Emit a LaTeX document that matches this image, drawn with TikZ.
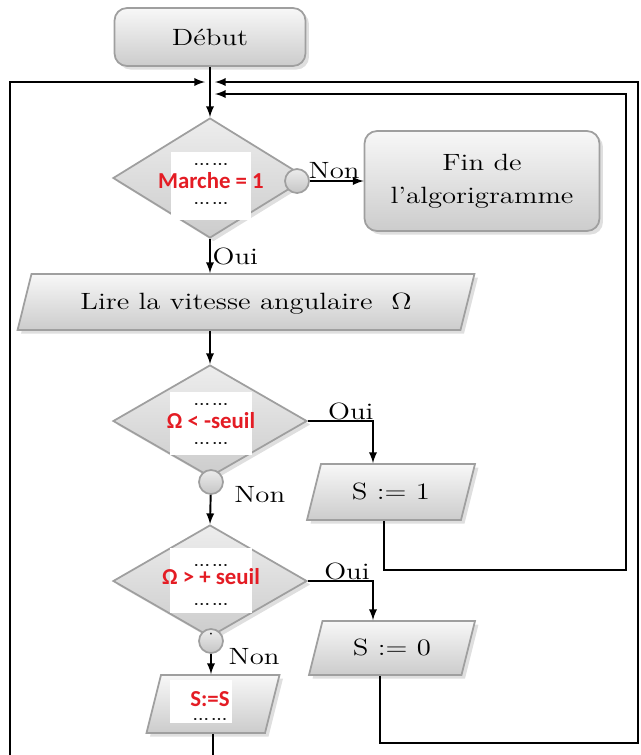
\documentclass[tikz,border=0pt]{standalone}
\usepackage{fontspec}
\setmainfont{Latin Modern Roman}[FakeStretch=1.22]
\newfontfamily\rougefont{Carlito}
\usetikzlibrary{shapes.geometric,shadows}
\definecolor{rougetxt}{RGB}{228,28,36}
\newcommand{\pts}{{\fontsize{7}{7}\selectfont\bfseries ...\,...}}
\newcommand{\cond}[1]{{\rougefont\bfseries\fontsize{13}{13}\selectfont\color{rougetxt}#1}}

\begin{document}
\begin{tikzpicture}[x=0.02cm,y=-0.02cm,>=latex,line width=1.1pt,
  forme/.style={draw=gray!75,line width=1pt,top color=gray!6,bottom color=gray!40,
    drop shadow={shadow xshift=2pt,shadow yshift=-2pt,opacity=0.25},font=\fontsize{13.4}{17}\selectfont},
  terminal/.style={forme,rectangle,rounded corners=0.25cm,align=center},
  test/.style={forme,diamond,inner sep=0pt,minimum width=3.88cm,top color=gray!14},
  es/.style={forme,trapezium,trapezium left angle=76,trapezium right angle=104,
    trapezium stretches body,inner sep=0pt,text height=0.7cm,text depth=0.42cm},
  masque/.style={fill=white,inner sep=0pt,minimum width=1.64cm},
  cadre/.style={align=center,inner sep=0pt,font=\fontsize{7}{7}\selectfont},
  rond/.style={circle,draw=gray!75,line width=1pt,top color=gray!15,bottom color=gray!45,
    minimum size=0.48cm,inner sep=0pt},
  lab/.style={font=\fontsize{13.4}{17}\selectfont,inner sep=1pt}]
\useasboundingbox (0,0) rectangle (640,755);

\node[terminal,minimum width=3.82cm,minimum height=1.16cm] (debut) at (210,37) {Début};
\node[terminal,minimum width=4.7cm,minimum height=2cm] (fin) at (482,181) {Fin de\\[2pt]l'algorigramme};

\node[test,minimum height=2.4cm] (d1) at (210,178) {};
\node[masque,minimum width=1.62cm,minimum height=1.36cm] (m1) at (211,186) {};
\node[cadre] (t1) at (211,184) {\pts\\[3pt]\cond{Marche = 1}\\[2pt]\pts};
\node[rond] (c1) at (297,181) {};

\node[es,minimum width=9.14cm] (lire) at (246,302) {Lire la vitesse angulaire \ Ω};

\node[test,minimum height=2.24cm] (d2) at (210,421) {};
\node[masque,minimum height=1.26cm] (m2) at (211,423) {};
\node[cadre] (t2) at (211,424) {\pts\\[3pt]\cond{Ω < -seuil}\\[2pt]\pts};
\node[rond] (c2) at (211,482) {};

\node[test,minimum height=2.24cm] (d3) at (210,581) {};
\node[masque,minimum height=1.3cm] (m3) at (211,580) {};
\node[cadre] (t3) at (211,585) {\pts\\\cond{Ω > + seuil}\\[5pt]\pts};
\node[rond] (c3) at (211,641) {};
\node[inner sep=0pt] (p3) at (c3.north) [yshift=-0.12cm] {$\cdot$};

\node[es,minimum width=3.36cm] (s1) at (391,492) {S := 1};
\node[es,minimum width=3.32cm,text height=0.68cm,text depth=0.4cm] (s0) at (392,648) {S := 0};
\node[es,minimum width=2.66cm,text height=0.58cm,text depth=0.58cm] (ss) at (213,704) {};
\node[masque,minimum width=1.26cm,minimum height=0.86cm] (m4) at (201,701) {};
\node[cadre] (t4) at (210,706) {\cond{S:=S}\\[1pt]\pts};

\coordinate (jg) at (205,82);
\coordinate (jd) at (215,82);
\coordinate (jd2) at (215,94);
\coordinate (bas) at (213,755);
\coordinate (gauche) at (10,755);

\draw[->] (debut) -- (d1);
\draw[->] (gauche) |- (jg);
\draw[->] (c1) -- node[lab,above,pos=0.45] {Non} (fin);
\draw[->] (d1.south) -- node[lab,right,midway] {Oui} (d1.south |- lire.north);
\draw[->] (d2.north |- lire.south) -- (d2.north);
\draw[->] (d2.east) -| node[lab,above,pos=0.33,inner sep=0pt] {Oui} ([xshift=-0.36cm]s1.north);
\draw[->] (c2) -- node[lab,anchor=west,pos=0,xshift=0.42cm] {Non} (d3.north);
\draw[->] (d3.east) -| node[lab,above,pos=0.3,inner sep=0pt] {Oui} ([xshift=-0.38cm]s0.north);
\draw[->] (c3) -- node[lab,anchor=west,pos=0.15,xshift=0.3cm] {Non} (c3 |- ss.north);
\draw[->] ([xshift=-0.14cm]s1.south) |- (626,570) |- (jd2);
\draw[->] ([xshift=-0.24cm]s0.south) |- (638,743) |- (jd);
\draw (ss.south) -- (bas);
\end{tikzpicture}
\end{document}
